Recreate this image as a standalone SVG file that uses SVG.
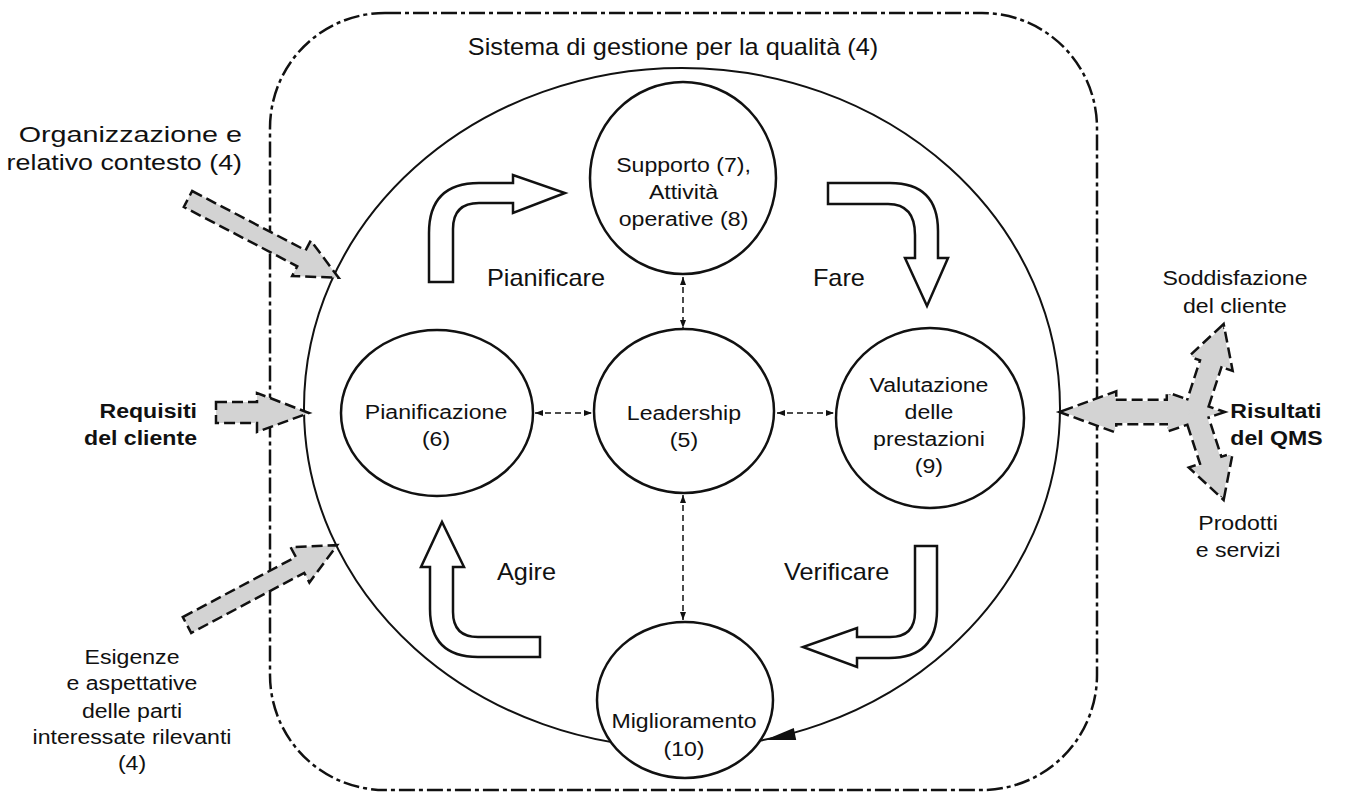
<svg xmlns="http://www.w3.org/2000/svg" width="1353" height="805" viewBox="0 0 1353 805">
<defs>
<marker id="ah" viewBox="0 0 8 6" markerWidth="8" markerHeight="6" refX="8" refY="3" orient="auto-start-reverse" markerUnits="userSpaceOnUse"><path d="M0,0 L8,3 L0,6 z" fill="#111"/></marker>
<polygon id="blk" points="0,-9 128,-9 128,-20 170,0 128,20 128,9 0,9"/>
<polygon id="blk2" points="0,-10 52,-10 52,-21 90,0 52,21 52,10 0,10"/>
</defs>
<style>
text{font-family:"Liberation Sans",Arial,sans-serif;font-size:21px;fill:#111}
.t{font-size:23px}
.b{font-weight:bold}
.m{text-anchor:middle}
.e{text-anchor:end}
.node{fill:#fff;stroke:#111;stroke-width:2.5}
.curv{fill:#fff;stroke:#111;stroke-width:2.5;stroke-linejoin:miter}
.gray{fill:#d3d3d3;stroke:#111;stroke-width:2.5;stroke-dasharray:11 5}
.gs{fill:none;stroke:#111;stroke-width:5;stroke-dasharray:11 5}
.gf{fill:#d3d3d3;stroke:none}
.dash{fill:none;stroke:#111;stroke-width:1.5;stroke-dasharray:6 4;marker-start:url(#ah);marker-end:url(#ah)}
</style>
<rect width="1353" height="805" fill="#fff"/>
<g id="boundary">
<rect x="270" y="13" width="827" height="777" rx="115" ry="115" fill="none" stroke="#111" stroke-width="2.5" stroke-dasharray="16 4 4 4"/>
</g>
<g id="cycle">
<ellipse cx="682" cy="408" rx="378" ry="340" fill="none" stroke="#111" stroke-width="2"/>
<polygon points="765,740 796.2,739.9 793.8,728.1" fill="#111"/>
</g>
<g id="inputs">
<use href="#blk" class="gray" transform="translate(188,199) rotate(27.6)"/>
<path class="gray" d="M216,402 L257,402 L257,393 L309,413 L257,432 L257,423 L216,423 Z"/>
<use href="#blk" class="gray" transform="translate(187,625) rotate(-28)"/>
</g>
<g id="outputs">
<path class="gs" d="M1063,412 L1115,393 L1115,401 L1168,401 L1168,394 L1221,412 L1168,430 L1168,423 L1115,423 L1115,431 Z"/>
<use href="#blk2" class="gs" transform="translate(1195,412) rotate(-71.97)"/>
<use href="#blk2" class="gs" transform="translate(1195,412) rotate(71.97)"/>
<path class="gf" d="M1063,412 L1115,393 L1115,401 L1168,401 L1168,394 L1221,412 L1168,430 L1168,423 L1115,423 L1115,431 Z"/>
<use href="#blk2" class="gf" transform="translate(1195,412) rotate(-71.97)"/>
<use href="#blk2" class="gf" transform="translate(1195,412) rotate(71.97)"/>
</g>
<g id="pdca-arrows">
<path class="curv" d="M429,282 L429,233 Q429,183 479,183 L513,183 L513,175 L565,193 L513,213 L513,203 L479,203 Q453,203 453,229 L453,282 Z"/>
<path class="curv" d="M828,183 L890,183 Q938,183 938,231 L938,258 L948,258 L927,306 L905,258 L915,258 L915,235 Q915,204 888,204 L828,204 Z"/>
<path class="curv" d="M915,546 L937,546 L937,610 Q937,658 889,658 L857,658 L857,667 L803,647 L857,628 L857,637 L890,637 Q915,637 915,612 Z"/>
<path class="curv" d="M540,637 L540,657 L478,657 Q430,657 430,609 L430,567 L421,567 L442,522 L464,567 L453,567 L453,612 Q453,637 478,637 Z"/>
</g>
<g id="connectors">
<line class="dash" x1="683" y1="277" x2="683" y2="328"/>
<line class="dash" x1="683" y1="495" x2="683" y2="620"/>
<line class="dash" x1="535" y1="413" x2="592" y2="413"/>
<line class="dash" x1="777" y1="413" x2="834" y2="413"/>
</g>
<g id="n-supporto"><ellipse class="node" cx="683" cy="178" rx="93" ry="96"/></g>
<g id="n-pianificazione"><ellipse class="node" cx="437" cy="413" rx="96" ry="83"/></g>
<g id="n-leadership"><ellipse class="node" cx="684" cy="411" rx="90" ry="82"/></g>
<g id="n-valutazione"><ellipse class="node" cx="930" cy="418" rx="94" ry="90"/></g>
<g id="n-miglioramento"><ellipse class="node" cx="685" cy="700" rx="88" ry="78"/></g>
<g id="labels" transform="scale(1.1 1)">
<text class="t m" x="611.8" y="55">Sistema di gestione per la qualità (4)</text>
<text class="e" x="220" y="142" style="font-size:22px" textLength="203" lengthAdjust="spacingAndGlyphs">Organizzazione e</text>
<text class="e" x="220" y="170" style="font-size:22px" textLength="214" lengthAdjust="spacingAndGlyphs">relativo contesto (4)</text>
<text class="m" x="621.4" y="172">Supporto (7),</text>
<text class="m" x="621.4" y="199">Attività</text>
<text class="m" x="621.4" y="226">operative (8)</text>
<text class="t" x="442.7" y="286">Pianificare</text>
<text class="t" x="739" y="286">Fare</text>
<text class="m" x="1122.7" y="285">Soddisfazione</text>
<text class="m" x="1122.7" y="313">del cliente</text>
<text class="b e" x="179.1" y="418">Requisiti</text>
<text class="b e" x="179.1" y="445">del cliente</text>
<text class="m" x="396.4" y="419">Pianificazione</text>
<text class="m" x="396.4" y="446">(6)</text>
<text class="m" x="621.8" y="420">Leadership</text>
<text class="m" x="621.8" y="447">(5)</text>
<text class="m" x="844.5" y="392">Valutazione</text>
<text class="m" x="844.5" y="419">delle</text>
<text class="m" x="844.5" y="446">prestazioni</text>
<text class="m" x="844.5" y="473">(9)</text>
<text class="b" x="1118.5" y="418">Risultati</text>
<text class="b" x="1118.5" y="445">del QMS</text>
<text class="m" x="1125.5" y="530">Prodotti</text>
<text class="m" x="1125.5" y="557">e servizi</text>
<text class="t" x="451.8" y="580">Agire</text>
<text class="t" x="712.7" y="580">Verificare</text>
<text class="m" x="120" y="664">Esigenze</text>
<text class="m" x="120" y="690">e aspettative</text>
<text class="m" x="120" y="718">delle parti</text>
<text class="m" x="120" y="744">interessate rilevanti</text>
<text class="m" x="120" y="770">(4)</text>
<text class="m" x="621.8" y="728">Miglioramento</text>
<text class="m" x="621.8" y="756">(10)</text>
</g>
</svg>
